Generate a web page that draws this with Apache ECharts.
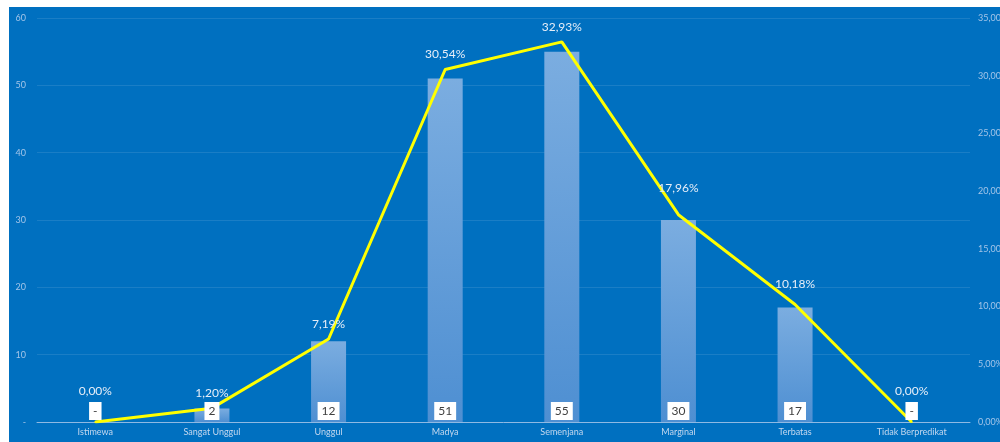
<!DOCTYPE html>
<html><head><meta charset="utf-8">
<script src="https://cdn.jsdelivr.net/npm/echarts@6/dist/echarts.min.js"></script>
<style>html,body{margin:0;padding:0;background:#fff;}#c{width:1000px;height:442px;}</style>
</head><body><div id="c"></div>
<script>
const categories = ['Istimewa','Sangat Unggul','Unggul','Madya','Semenjana','Marginal','Terbatas','Tidak Berpredikat'];
const counts = [0, 2, 12, 51, 55, 30, 17, 0];
const percents = [0, 1.20, 7.19, 30.54, 32.93, 17.96, 10.18, 0];
const leftTicks = {min: 0, max: 60, interval: 10};
const rightTicks = {min: 0, max: 35, interval: 5};

const fmtPct = v => v.toFixed(2).replace('.', ',') + '%';
const chart = echarts.init(document.getElementById('c'), null, {renderer: 'canvas'});
const font = 'Lato, "Open Sans", sans-serif';
const lineLabelDistance = (v, i) => {
  if (v === 0) return 24;
  const prev = i > 0 ? percents[i - 1] : v;
  return 8 + Math.max(0, prev - v) * 0.75;
};
chart.setOption({
  animation: false,
  backgroundColor: '#ffffff',
  graphic: [{type: 'rect', shape: {x: 9, y: 7, width: 991, height: 435}, style: {fill: '#0070c0'}, z: -10, silent: true}],
  grid: {left: 37, right: 30, top: 18, bottom: 20, containLabel: false, outerBoundsMode: 'none'},
  xAxis: {
    type: 'category', data: categories,
    axisLine: {show: true, lineStyle: {color: '#8fb9e3', width: 1}},
    axisTick: {show: false},
    axisLabel: {color: '#c3d8ef', fontSize: 9, fontFamily: font, margin: 6, interval: 0}
  },
  yAxis: [
    {type: 'value', min: leftTicks.min, max: leftTicks.max, interval: leftTicks.interval,
     axisLine: {show: false}, axisTick: {show: false},
     splitLine: {show: true, lineStyle: {color: 'rgba(255,255,255,0.10)', width: 1}},
     axisLabel: {color: '#a3c5e8', fontSize: 9, fontFamily: font, margin: 11,
       formatter: v => v === 0 ? '-' : String(v)}},
    {type: 'value', min: rightTicks.min, max: rightTicks.max, interval: rightTicks.interval,
     axisLine: {show: false}, axisTick: {show: false}, splitLine: {show: false},
     axisLabel: {color: '#a3c5e8', fontSize: 9, fontFamily: font, margin: 8,
       formatter: v => fmtPct(v)}}
  ],
  series: [
    {type: 'bar', yAxisIndex: 0, barWidth: 35,
     data: counts,
     itemStyle: {color: new echarts.graphic.LinearGradient(0, 0, 0, 1, [
       {offset: 0, color: '#7bade0'}, {offset: 1, color: '#4e8fd2'}])},
     z: 2},
    {type: 'line', yAxisIndex: 1, symbol: 'circle', symbolSize: 2, showSymbol: true,
     itemStyle: {color: '#ffff00'},
     data: percents.map((v, i) => ({value: v, label: {show: true, distance: lineLabelDistance(v, i)}})),
     lineStyle: {color: '#ffff00', width: 3},
     label: {show: true, position: 'top', color: '#e6eef8', fontSize: 12, fontFamily: font,
       formatter: p => fmtPct(p.value)},
     labelLayout: {hideOverlap: false},
     z: 3},
    {type: 'bar', yAxisIndex: 0, barWidth: 35, barGap: '-100%',
     data: counts,
     itemStyle: {color: 'rgba(0,0,0,0)'},
     label: {show: true, position: 'insideBottom', distance: 2,
       formatter: p => p.value === 0 ? '-' : String(p.value),
       color: '#404040', fontSize: 12, fontFamily: font, lineHeight: 13,
       backgroundColor: '#ffffff', padding: [3, 4, 2, 4]},
     z: 5}
  ]
});
</script></body></html>
